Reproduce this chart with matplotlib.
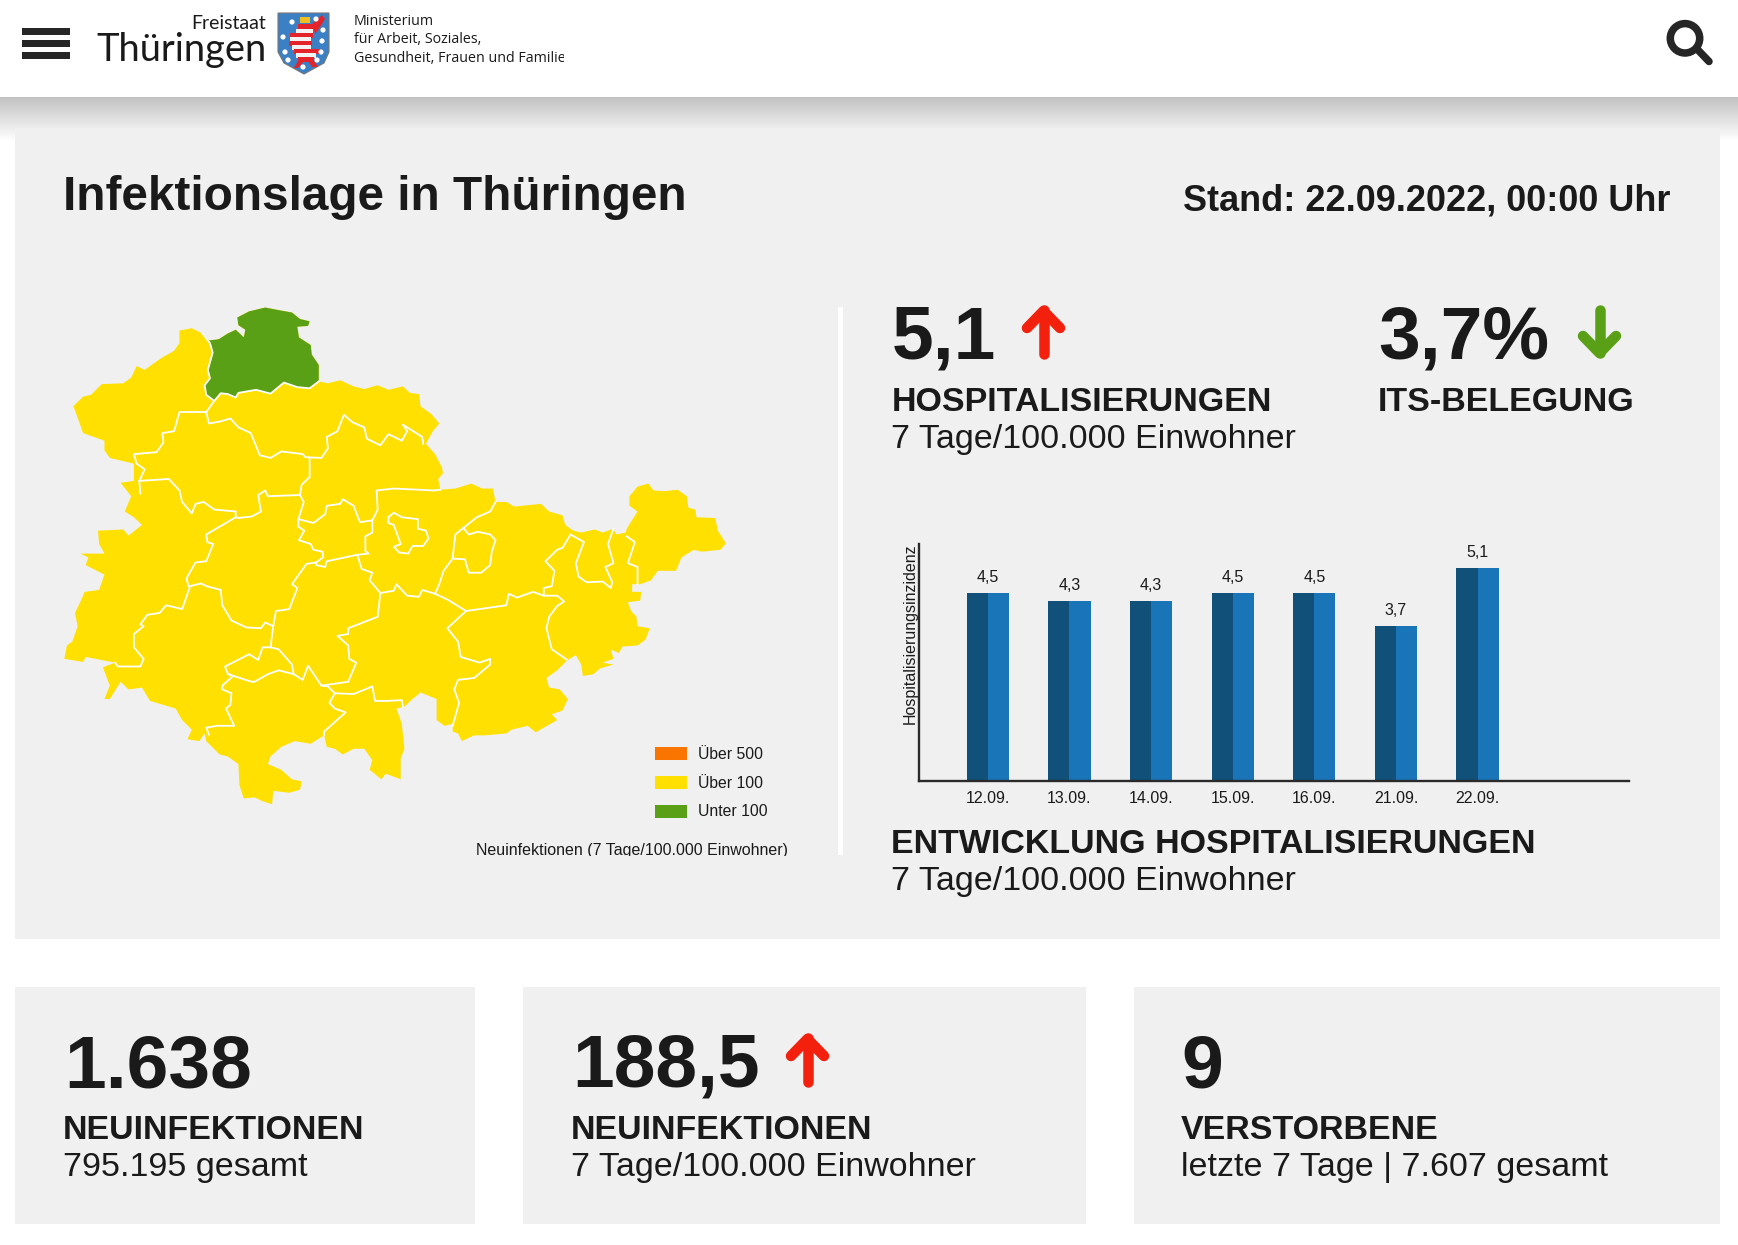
import numpy as np
import matplotlib
matplotlib.use("Agg")
import matplotlib.pyplot as plt
from matplotlib.patches import Rectangle, Polygon, Circle

# ================================
# DATA
# ================================

hosp_dates = ["12.09.", "13.09.", "14.09.", "15.09.", "16.09.", "21.09.", "22.09."]
hosp_values = [4.5, 4.3, 4.3, 4.5, 4.5, 3.7, 5.1]

legend_labels = ["Über 500", "Über 100", "Unter 100"]
legend_colors = ["#f97500", "#ffe000", "#5aa016"]

# map outlines, traced in map units (1568 x 1568 box)
state_outline = [(335,132),(358,126),(378,140),(390,158),(408,155),(425,140),(440,130),(455,150),(458,130),(445,118),(443,98),(465,82),(495,72),(525,80),(545,85),(560,102),(578,108),(575,120),(555,122),(558,150),(580,170),(582,195),(595,222),(595,265),
    (612,270),(635,262),(660,278),(680,285),(705,275),(725,287),(752,278),(765,295),(782,298),(785,330),(805,350),(820,375),(808,395),(795,428),(812,455),(825,490),(827,505),(818,520),(822,548),(850,545),(880,532),(900,545),(920,545),(925,580),(945,580),(960,592),(1010,585),(1025,605),(1050,615),(1055,640),(1070,655),(1085,660),(1110,652),(1125,660),(1145,650),(1150,665),(1168,660),(1170,650),(1190,605),(1175,590),(1175,565),(1190,540),(1210,532),(1220,550),(1240,552),(1265,548),(1282,565),(1285,595),(1298,600),(1300,620),(1335,622),(1340,655),(1355,688),(1345,705),(1310,710),(1295,705),(1272,725),(1262,760),(1228,760),(1215,785),(1195,795),(1180,795),(1180,815),(1197,815),(1195,838),(1172,842),(1178,865),(1188,880),(1190,905),(1213,910),(1205,940),(1190,955),(1162,958),(1155,975),(1140,965),(1145,990),(1125,1000),(1145,1005),(1120,1015),(1108,1030),(1088,1035),(1085,1005),(1075,980),(1058,995),(1040,1020),(1020,1040),(1025,1065),(1045,1070),(1060,1095),(1050,1125),(1030,1135),(1040,1150),(1000,1182),(985,1165),(955,1175),(945,1185),(905,1190),(885,1190),(862,1205),(855,1185),(845,1180),(845,1160),(830,1165),(815,1150),(815,1095),(785,1078),(770,1095),(755,1115),(740,1120),(750,1160),(755,1225),(748,1250),(748,1305),(720,1290),(712,1305),(690,1280),(695,1255),(680,1225),(660,1225),(640,1240),(625,1225),(610,1220),(605,1190),(580,1212),(550,1205),(525,1220),(505,1245),(500,1265),(525,1280),(545,1305),(563,1310),(560,1332),(540,1340),(510,1335),(508,1370),(490,1362),(475,1352),(455,1355),(447,1320),(445,1265),(425,1245),(410,1240),(385,1205),(382,1185),(372,1205),(350,1200),(358,1175),(340,1150),(328,1120),(280,1100),(265,1065),(240,1070),(225,1050),(205,1095),(195,1095),(205,1060),(192,1012),(215,1000),(160,985),(155,998),(120,990),(125,955),(135,945),(145,905),(140,870),(152,835),(158,815),(185,810),(195,770),(160,745),(165,725),(150,715),(195,715),(185,690),(183,655),(230,652),(240,668),(265,640),(250,620),(233,605),(245,565),(225,530),(250,525),(250,480),(205,465),(195,445),(195,420),(155,400),(145,360),(137,330),(155,305),(170,300),(190,272),(230,270),(245,255),(255,225),(270,235),(300,205),(325,185),(335,165)]

green_outline = [(378,140),(390,158),(408,155),(425,140),(440,130),(455,150),(458,130),(445,118),(443,98),(465,82),(495,72),(525,80),(545,85),(560,102),(578,108),(575,120),(555,122),(558,150),(580,170),(582,195),(595,222),(595,265),(578,283),(555,280),(530,268),(505,297),(478,287),(445,295),(440,307),(425,298),(412,296),(400,316),(385,300),(382,275),(392,257),(388,235),(397,190),(392,165)]

borders = [
    [(595,265),(578,283),(555,280),(530,268),(505,297),(478,287),(445,295),(440,307),(425,298),(412,296),(400,316),(385,300),(382,275),(392,257),(388,235),(397,190),(392,165),(378,140)],
    [(400,316),(385,345),(335,345),(325,395),(303,400),(305,425),(292,450),(250,455),(255,480),(270,495),(260,525),(262,558)],
    [(260,525),(315,520),(335,550),(340,580),(358,610),(365,585),(380,580),(400,600),(440,605),(440,620),(385,665),(387,685),(398,690),(385,735),(365,738),(348,780),(352,800)],
    [(385,345),(390,375),(410,370),(430,362),(445,385),(468,400),(485,458),(505,465),(525,448),(565,455),(570,463),(600,465),(612,440),(610,410),(630,395),(642,352),(658,372),(680,385),(685,415),(710,432),(725,403),(750,420),(760,395),(752,378),(788,410),(790,428)],
    [(578,465),(578,515),(563,535),(560,562),(500,565),(495,550),(482,562),(487,605),(470,618),(445,622),(440,620)],
    [(560,562),(567,580),(557,625),(585,635),(607,612),(610,590),(635,585),(640,573),(660,590),(672,633),(695,628),(705,600),(703,550),(735,545),(810,550),(822,548)],
    [(557,625),(557,645),(568,655),(558,680),(580,690),(585,705),(602,710),(603,725),(590,738),(572,742),(545,795),(555,805),(540,860),(515,865),(510,905),(495,895),(487,910),(460,908),(432,890),(415,850),(412,810),(385,800),(375,793),(355,800),(340,860),(310,850),(298,870),(275,875),(262,900),(268,905),(250,925),(250,960),(268,990),(262,1010),(220,1010),(215,1000)],
    [(695,628),(695,660),(682,670),(682,708),(688,715),(667,718),(610,735),(607,750),(590,745),(590,738)],
    [(667,718),(675,755),(695,765),(690,785),(710,818),(735,812),(740,795),(760,825),(782,828),(788,810),(812,820),(820,795),(828,760),(845,728),(868,730),(875,765),(898,765),(915,745),(918,710),(925,680),(915,665),(892,658),(875,665),(865,648),(850,665),(845,725)],
    [(865,648),(890,620),(915,605),(925,580)],
    [(812,820),(835,835),(870,865),(945,850),(950,820),(965,830),(995,815),(1015,825),(1040,825),(1053,840),(1040,852),(1025,880),(1020,910),(1030,965),(1058,992)],
    [(1015,825),(1015,805),(1030,800),(1035,760),(1018,735),(1040,705),(1050,700),(1065,665),(1090,685),(1075,740),(1080,775),(1095,790),(1125,788),(1140,805),(1143,790),(1130,750),(1145,740),(1135,690),(1145,650)],
    [(1170,670),(1185,685),(1172,740),(1190,750),(1190,795)],
    [(725,620),(735,608),(750,620),(780,625),(780,650),(795,655),(800,675),(790,695),(770,695),(762,715),(745,712),(735,697),(748,690),(735,640),(725,635),(725,620)],
    [(710,818),(705,880),(650,910),(650,925),(630,930),(650,955),(652,990),(665,1000),(650,1050),(600,1060),(575,1008),(565,1045),(548,1030),(545,1005),(520,965),(505,960),(510,905)],
    [(505,960),(490,960),(482,993),(465,978),(420,1010),(425,1028),(435,1035),(415,1060),(415,1070),(432,1080),(430,1110),(422,1120),(437,1165),(405,1165),(385,1170),(390,1188)],
    [(425,1030),(470,1050),(475,1050),(500,1030),(520,1020),(548,1030)],
    [(600,1060),(612,1062),(625,1080),(660,1082),(695,1062),(700,1100),(722,1100),(750,1098),(752,1115)],
    [(625,1080),(615,1105),(625,1120),(645,1130),(605,1180),(605,1190)],
    [(870,865),(835,910),(855,945),(860,985),(895,1000),(915,990),(915,1005),(885,1040),(855,1045),(848,1070),(857,1105),(845,1165)],
]

# ================================
# CONFIGURATION
# ================================

W, H = 1738, 1245
font = ["Liberation Sans", "DejaVu Sans"]
ink = "#1a1a1a"
panel = "#f0f0f0"
red = "#f2200c"
green = "#5aa016"


def px(size):
    return size * 0.72


fig = plt.figure(figsize=(W / 100, H / 100), dpi=100, facecolor="white")

bg = fig.add_axes([0, 0, 1, 1], zorder=0)
bg.set_xlim(0, W)
bg.set_ylim(H, 0)
bg.axis("off")


def txt(x, y, s, size, weight="normal", ha="left", color=ink, family=font):
    return bg.text(x, y, s, fontsize=px(size), fontweight=weight, ha=ha, va="baseline",
                   color=color, family=family)


def stroke(xs, ys, color, width):
    bg.plot(xs, ys, color=color, lw=width * 0.72, solid_capstyle="round",
            solid_joinstyle="round")


def up_arrow(x, tip):
    stroke([x, x], [tip + 2, tip + 46], red, 10.5)
    stroke([x - 16.5, x, x + 16.5], [tip + 20, tip + 3, tip + 20], red, 10.5)


def down_arrow(x, tip):
    stroke([x, x], [tip - 45, tip - 2], green, 10.5)
    stroke([x - 16.5, x, x + 16.5], [tip - 19, tip - 2, tip - 19], green, 10.5)


# ================================
# PAGE BACKGROUND
# ================================

shadow = np.linspace(0.76, 1.0, 45).reshape(-1, 1)
bg.imshow(shadow, extent=(0, W, 142, 97), cmap="gray", vmin=0, vmax=1, aspect="auto", zorder=0)
bg.set_xlim(0, W)
bg.set_ylim(H, 0)

bg.add_patch(Rectangle((15, 128), 1705, 811, fc=panel, ec="none", zorder=1))
for x0, x1 in [(15, 475), (523, 1086), (1134, 1720)]:
    bg.add_patch(Rectangle((x0, 987), x1 - x0, 237, fc=panel, ec="none", zorder=1))
bg.add_patch(Rectangle((838, 307), 5, 548, fc="white", ec="none", zorder=1))

# ================================
# HEADER
# ================================

for y in [28, 40, 52]:
    bg.add_patch(Rectangle((22, y), 48, 6.5, fc="#262626", ec="none"))

txt(266, 29, "Freistaat", 19.5, ha="right", family=["Lato", "DejaVu Sans"])
txt(267, 61, "Thüringen", 38, ha="right", family=["Lato", "DejaVu Sans"])

shield = [(278, 13), (329, 13), (329, 52), (324, 63), (304, 74), (284, 63), (278, 52)]
bg.add_patch(Polygon(shield, fc="#3b7fc4", ec="#777777", lw=0.8))
# lion bands, top to bottom
for y, x0, x1, c in [(24, 298, 313, "#e3242b"), (29, 296, 313, "#f2f2f2"), (33, 290, 313, "#e3242b"),
                     (37, 290, 311, "#f2f2f2"), (41, 289, 312, "#e3242b"), (45, 292, 311, "#f2f2f2"),
                     (49, 294, 320, "#e3242b"), (53, 296, 316, "#f2f2f2"), (57, 298, 314, "#e3242b")]:
    bg.add_patch(Rectangle((x0, y), x1 - x0, 4.5, fc=c, ec="none"))
bg.add_patch(Polygon([(312, 24), (322, 15), (325, 19), (318, 30), (315, 34)], fc="#e3242b", ec="none"))
bg.add_patch(Polygon([(298, 61), (304, 61), (298, 68), (294, 68)], fc="#e3242b", ec="none"))
bg.add_patch(Polygon([(308, 61), (314, 61), (318, 67), (312, 67)], fc="#e3242b", ec="none"))
bg.add_patch(Rectangle((299.5, 17), 10, 5.5, fc="#f0c020", ec="none"))
for cx, cy in [(292, 22), (316, 19), (323, 30), (283, 37), (322, 41), (285, 52), (321, 52), (303, 67), (288, 60), (317, 60)]:
    bg.add_patch(Circle((cx, cy), 2.6, fc="white", ec="none"))

min_family = ["Open Sans", "DejaVu Sans"]
txt(353.5, 25, "Ministerium", 14.2, family=min_family)
txt(353.5, 43, "für Arbeit, Soziales,", 14.2, family=min_family)
fam_text = txt(353.5, 61.5, "Gesundheit, Frauen und Familie", 14.2, family=min_family)
fam_text.set_clip_on(True)
fam_text.set_clip_path(Rectangle((350, 45), 214, 30, transform=bg.transData))

# search icon
bg.add_patch(Circle((1685, 38.3), 14.7, fc="none", ec="#262626", lw=7.5 * 0.72))
stroke([1698, 1709], [50, 61.5], "#262626", 7.5)

# ================================
# HEADINGS AND FIGURES
# ================================

txt(63, 210, "Infektionslage in Thüringen", 47.8, "bold")
txt(1670, 211, "Stand: 22.09.2022, 00:00 Uhr", 36, "bold", ha="right")

txt(892, 359, "5,1", 75, "bold")
up_arrow(1043.5, 308)
txt(892, 411, "HOSPITALISIERUNGEN", 34, "bold")
txt(891, 448, "7 Tage/100.000 Einwohner", 34)

txt(1378, 359, "3,7%", 75, "bold")
down_arrow(1599.5, 355)
txt(1378, 411, "ITS-BELEGUNG", 34, "bold")

txt(891, 853, "ENTWICKLUNG HOSPITALISIERUNGEN", 34, "bold")
txt(891, 890, "7 Tage/100.000 Einwohner", 34)

txt(64, 1087, "1.638", 75, "bold")
txt(63, 1139, "NEUINFEKTIONEN", 34, "bold")
txt(63, 1176, "795.195 gesamt", 34)

txt(572, 1087, "188,5", 75, "bold")
up_arrow(807.5, 1036)
txt(571, 1139, "NEUINFEKTIONEN", 34, "bold")
txt(571, 1176, "7 Tage/100.000 Einwohner", 34)

txt(1181, 1087, "9", 75, "bold")
txt(1181, 1139, "VERSTORBENE", 34, "bold")
txt(1181, 1176, "letzte 7 Tage | 7.607 gesamt", 34)

# ================================
# MAP
# ================================

map_ax = fig.add_axes([0, 1 - 880 / H, 840 / W, 600 / H], zorder=1)
map_ax.set_xlim(0, 1568)
map_ax.set_ylim(1568, 0)
map_ax.axis("off")
map_ax.add_patch(Polygon(state_outline, fc=legend_colors[1], ec="none"))
map_ax.add_patch(Polygon(green_outline, fc=legend_colors[2], ec="none"))
for line in borders:
    xs, ys = zip(*line)
    map_ax.plot(xs, ys, color="white", lw=1.3, solid_joinstyle="round")

for y, label, color in zip([747, 776, 804.5], legend_labels, legend_colors):
    bg.add_patch(Rectangle((654.5, y), 32.5, 13, fc=color, ec="none", zorder=2))
    txt(697.5, y + 12, label, 15.7)

note = txt(476.5, 855.5, "Neuinfektionen (7 Tage/100.000 Einwohner)", 16)
note.set_clip_on(True)
note.set_clip_path(Rectangle((470, 835), 330, 21, transform=bg.transData))

# ================================
# BAR CHART
# ================================

ax = fig.add_axes([919 / W, 1 - 781 / H, (1629 - 919) / W, (781 - 544) / H], zorder=2)
ax.patch.set_alpha(0)
ax.set_xlim(-0.842, 7.854)
ax.set_ylim(0, 5.67)

positions = np.arange(len(hosp_values))
half = 0.259
ax.bar(positions - half, hosp_values, width=half, align="edge", color="#105079")
ax.bar(positions, hosp_values, width=half, align="edge", color="#1a75b8")
for pos, val in zip(positions, hosp_values):
    ax.text(pos, val + 0.19, f"{val:.1f}".replace(".", ","), ha="center", va="bottom",
            fontsize=px(16), color=ink, family=font)

ax.set_xticks(positions)
ax.set_xticklabels(hosp_dates, fontsize=px(16), color=ink, family=font)
ax.tick_params(axis="x", length=0, pad=7)
ax.set_yticks([])
ax.set_ylabel("Hospitalisierungsinzidenz", fontsize=px(16), color=ink, family=font, labelpad=1, y=1,
              ha="right")
for side in ["top", "right"]:
    ax.spines[side].set_visible(False)
for side in ["left", "bottom"]:
    ax.spines[side].set_linewidth(1.7)
    ax.spines[side].set_color("#2a2a2a")

plt.savefig("out.png", dpi=100)
